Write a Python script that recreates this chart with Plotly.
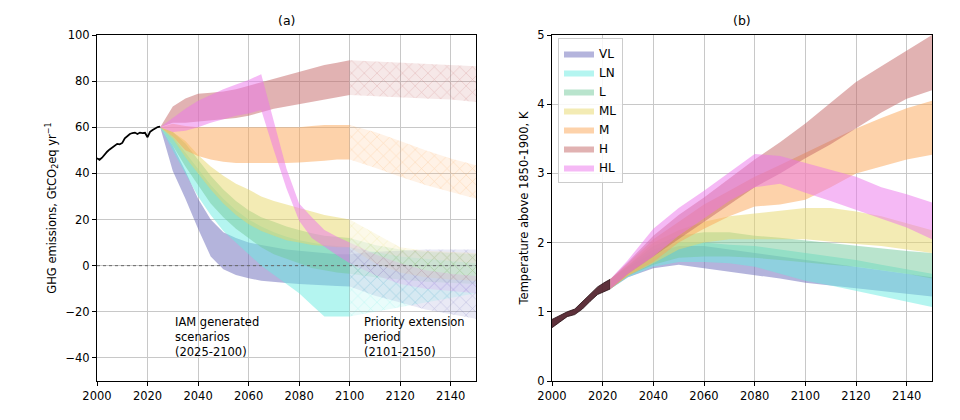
import plotly.graph_objects as go
from plotly.subplots import make_subplots

# ---- data -------------------------------------------------------------
SCENARIOS = ["VL", "LN", "L", "ML", "M", "H", "HL"]
BASE_RGB = {
    "VL": (105, 105, 185),
    "LN": (105, 235, 225),
    "L": (115, 201, 155),
    "ML": (231, 215, 105),
    "M": (251, 165, 85),
    "H": (195, 101, 101),
    "HL": (235, 115, 235),
}

# historical GHG emissions (GtCO2eq/yr)
hist_years = list(range(2000, 2026))
hist_emis = [46.6, 45.9, 46.8, 48.2, 49.4, 50.4, 51.2, 51.9, 52.8, 52.6,
             53.2, 55.2, 56.3, 57.1, 57.5, 57.7, 57.1, 57.7, 57.5, 57.6,
             55.7, 58.0, 58.8, 59.4, 60.1, 60.3]

# IAM period 2025-2100
emis_years = [2025, 2030, 2035, 2040, 2045, 2050, 2055, 2060,
              2065, 2070, 2075, 2080, 2085, 2090, 2095, 2100]
emis_hi = {
    "VL": [60, 52, 41, 29, 20, 14.5, 12, 10, 9, 8, 7, 6.5, 6, 5.5, 5, 5],
    "LN": [60, 56, 49, 42, 35, 29, 24, 20, 17, 14.5, 12.5, 11, 10, 9, 8.5, 8],
    "L": [60, 58, 53, 46, 39, 33, 28, 24, 21, 19, 17, 15.5, 14, 13, 12.5, 12],
    "ML": [60, 58, 54, 48, 43, 39, 35.5, 33, 30, 28, 26.5, 25, 23.5, 22, 21, 20],
    "M": [60, 61.5, 60.5, 60, 60, 60, 60, 60, 60, 60, 60, 60, 60.5, 61, 61, 61],
    "H": [60, 69, 72.5, 74.5, 75, 75.5, 76.5, 78, 79.5, 81, 82.5, 84, 85.5, 87, 88, 89],
    "HL": [60, 64, 68, 71.5, 74, 76.5, 78.5, 80.5, 83, 62, 42, 27, 21, 15.5, 12.5, 10],
}
emis_lo = {
    "VL": [60, 41, 29, 16, 4, -1.5, -4, -5.5, -6.5, -7, -7.5, -8, -8.3, -8.6, -8.8, -9],
    "LN": [60, 50, 40, 30, 22, 15, 10, 5, 0, -4, -8, -12, -17, -22, -22, -22],
    "L": [60, 52, 43, 35, 27, 21, 16, 12, 8, 5, 3, 1, -1, -2, -3, -3.5],
    "ML": [60, 55, 47, 40, 33, 27, 22, 18, 15, 13, 11, 10, 9, 8.5, 8, 8],
    "M": [60, 56, 50, 47.5, 46, 45, 44.5, 44.3, 44.3, 44.5, 44.5, 44.7, 45, 45.5, 46, 46],
    "H": [60, 62, 62, 62.5, 63, 63.5, 64, 65, 66.5, 68, 69, 70, 71, 72, 73, 74],
    "HL": [60, 58, 58.5, 60, 62, 63.5, 65, 66, 67.5, 50, 33.5, 19.5, 12, 8.2, 4.5, 1],
}

# priority extension period 2100-2150
ext_years = [2100, 2110, 2120, 2130, 2140, 2150]
ext_hi = {
    "VL": [5, 6, 6.5, 7, 7, 7],
    "LN": [8, 6, 4, 3, 2, 1],
    "L": [12, 9, 7, 6, 5.5, 5],
    "ML": [20, 14, 8, 6.5, 6, 5.5],
    "M": [61, 58, 54, 50, 46.5, 43.5],
    "H": [89, 88.5, 88, 87.5, 87, 86.5],
    "HL": [10, 5, 1, -2, -3.5, -4.5],
}
ext_lo = {
    "VL": [-9, -13, -16, -19, -21, -23],
    "LN": [-22, -20, -18, -16, -14, -12],
    "L": [-3.5, -5, -6, -7, -7.5, -8],
    "ML": [8, 1, -3, -5, -6, -6.5],
    "M": [46, 42.5, 38.5, 35, 32, 29],
    "H": [74, 73.5, 73, 72.5, 72, 71],
    "HL": [1, -4, -8, -10, -11, -12],
}

# historical warming band (K above 1850-1900)
thist_years = [2000, 2003, 2006, 2009, 2012, 2015, 2018, 2021, 2023]
thist_hi = [0.89, 0.95, 1.0, 1.04, 1.15, 1.26, 1.36, 1.43, 1.47]
thist_lo = [0.77, 0.85, 0.93, 0.96, 1.04, 1.15, 1.25, 1.30, 1.33]

temp_years = [2023, 2030, 2040, 2050, 2060, 2070, 2080, 2090,
              2100, 2110, 2120, 2130, 2140, 2150]
temp_hi = {
    "VL": [1.47, 1.65, 1.85, 1.95, 1.95, 1.9, 1.85, 1.8, 1.75, 1.7, 1.65, 1.6, 1.55, 1.5],
    "LN": [1.47, 1.65, 1.9, 2.0, 2.0, 1.97, 1.95, 1.9, 1.85, 1.8, 1.75, 1.68, 1.62, 1.55],
    "L": [1.47, 1.67, 1.95, 2.1, 2.15, 2.15, 2.1, 2.07, 2.03, 2.0, 1.95, 1.92, 1.88, 1.85],
    "ML": [1.47, 1.67, 2.0, 2.18, 2.3, 2.38, 2.42, 2.46, 2.5, 2.5, 2.45, 2.38, 2.28, 2.18],
    "M": [1.47, 1.7, 2.05, 2.3, 2.55, 2.75, 2.95, 3.12, 3.3, 3.48, 3.65, 3.8, 3.94, 4.05],
    "H": [1.47, 1.72, 2.1, 2.4, 2.65, 2.93, 3.2, 3.45, 3.72, 4.02, 4.32, 4.55, 4.78, 5.0],
    "HL": [1.47, 1.75, 2.2, 2.5, 2.75, 3.02, 3.28, 3.25, 3.15, 3.05, 2.95, 2.8, 2.7, 2.58],
}
temp_lo = {
    "VL": [1.33, 1.5, 1.63, 1.68, 1.64, 1.58, 1.53, 1.48, 1.42, 1.38, 1.34, 1.3, 1.26, 1.22],
    "LN": [1.33, 1.5, 1.65, 1.72, 1.72, 1.7, 1.65, 1.55, 1.45, 1.38, 1.3, 1.22, 1.15, 1.07],
    "L": [1.33, 1.52, 1.68, 1.78, 1.8, 1.8, 1.78, 1.75, 1.72, 1.68, 1.65, 1.6, 1.55, 1.48],
    "ML": [1.33, 1.52, 1.7, 1.9, 2.0, 2.05, 2.05, 2.05, 2.05, 2.02, 1.98, 1.95, 1.9, 1.85],
    "M": [1.33, 1.52, 1.72, 2.0, 2.2, 2.38, 2.52, 2.55, 2.62, 2.8, 3.0, 3.1, 3.2, 3.27],
    "H": [1.33, 1.55, 1.8, 2.05, 2.3, 2.55, 2.8, 3.0, 3.22, 3.42, 3.65, 3.88, 4.08, 4.2],
    "HL": [1.33, 1.55, 1.8, 2.1, 2.35, 2.6, 2.8, 2.85, 2.72, 2.6, 2.48, 2.35, 2.22, 2.05],
}


def rgba(name, a):
    r, g, b = BASE_RGB[name]
    return f"rgba({r},{g},{b},{a})"


def band(x, hi, lo):
    return list(x) + list(x)[::-1], list(hi) + list(lo)[::-1]


FONT = "DejaVu Sans"

fig = make_subplots(rows=1, cols=2)

# ---- panel (a): emissions ----------------------------------------------
for s in SCENARIOS:
    bx, by = band(emis_years, emis_hi[s], emis_lo[s])
    fig.add_trace(go.Scatter(
        x=bx, y=by, fill="toself", fillcolor=rgba(s, 0.5),
        line=dict(width=0), mode="lines", hoverinfo="skip",
        showlegend=False, legendgroup=s, name=s,
    ), row=1, col=1)
for s in SCENARIOS:
    bx, by = band(ext_years, ext_hi[s], ext_lo[s])
    fig.add_trace(go.Scatter(
        x=bx, y=by, fill="toself", fillcolor=rgba(s, 0.15),
        fillpattern=dict(shape="x", fgcolor=rgba(s, 0.7),
                         bgcolor=rgba(s, 0.15), size=9, solidity=0.12),
        line=dict(width=0), mode="lines", hoverinfo="skip",
        showlegend=False, legendgroup=s, name=s,
    ), row=1, col=1)

fig.add_trace(go.Scatter(
    x=hist_years, y=hist_emis, mode="lines",
    line=dict(color="black", width=1.8), showlegend=False,
), row=1, col=1)

fig.add_hline(y=0, line=dict(color="#666666", width=1, dash="dot"),
              row=1, col=1)

# ---- panel (b): temperature --------------------------------------------
bx, by = band(thist_years, thist_hi, thist_lo)
fig.add_trace(go.Scatter(
    x=bx, y=by, fill="toself", fillcolor="rgba(80,32,42,0.92)",
    line=dict(color="rgb(40,15,20)", width=0.8), mode="lines",
    hoverinfo="skip", showlegend=False,
), row=1, col=2)

for s in SCENARIOS:
    bx, by = band(temp_years, temp_hi[s], temp_lo[s])
    fig.add_trace(go.Scatter(
        x=bx, y=by, fill="toself", fillcolor=rgba(s, 0.5),
        line=dict(width=0), mode="lines", hoverinfo="skip",
        showlegend=True, legendgroup=s, name=s,
    ), row=1, col=2)

# ---- layout -------------------------------------------------------------
axis_style = dict(
    showline=True, mirror=True, linecolor="black", linewidth=1,
    ticks="outside", ticklen=4, tickcolor="black", automargin=False,
    showgrid=True, gridcolor="#c8c8c8", gridwidth=1, zeroline=False,
    tickfont=dict(family=FONT, size=11.5, color="black"),
)

fig.update_xaxes(axis_style)
fig.update_yaxes(axis_style)

fig.update_xaxes(domain=[97 / 960, 476 / 960], range=[2000, 2150],
                 tickvals=list(range(2000, 2150, 20)), row=1, col=1)
fig.update_xaxes(domain=[552 / 960, 932 / 960], range=[2000, 2150],
                 tickvals=list(range(2000, 2150, 20)), row=1, col=2)
fig.update_yaxes(domain=[39 / 420, 385 / 420], range=[-50, 100],
                 tickvals=list(range(-40, 101, 20)),
                 title=dict(text="GHG emissions, GtCO<sub>2</sub>eq yr<sup>−1</sup>",
                            font=dict(family=FONT, size=11.5), standoff=6),
                 row=1, col=1)
fig.update_yaxes(domain=[39 / 420, 385 / 420], range=[0, 5],
                 tickvals=[0, 1, 2, 3, 4, 5],
                 title=dict(text="Temperature above 1850-1900, K",
                            font=dict(family=FONT, size=11.5), standoff=6),
                 row=1, col=2)

annots = [
    dict(text="(a)", x=(97 + 476) / 2 / 960, y=0.952, xref="paper", yref="paper",
         xanchor="center", yanchor="middle",
         showarrow=False, font=dict(family=FONT, size=12.5)),
    dict(text="(b)", x=(552 + 932) / 2 / 960, y=0.952, xref="paper", yref="paper",
         xanchor="center", yanchor="middle",
         showarrow=False, font=dict(family=FONT, size=12.5)),
    dict(text="IAM generated<br>scenarios<br>(2025-2100)", x=2030, y=-31,
         xref="x", yref="y", xanchor="left", yanchor="middle", align="left",
         showarrow=False, font=dict(family=FONT, size=11.5)),
    dict(text="Priority extension<br>period<br>(2101-2150)", x=2105, y=-31,
         xref="x", yref="y", xanchor="left", yanchor="middle", align="left",
         showarrow=False, font=dict(family=FONT, size=11.5)),
]

fig.update_layout(
    width=960, height=420,
    margin=dict(l=0, r=0, t=0, b=0, autoexpand=False),
    paper_bgcolor="white", plot_bgcolor="white",
    font=dict(family=FONT, size=11.5, color="black"),
    annotations=annots,
    legend=dict(x=558 / 960, y=382 / 420, xanchor="left", yanchor="top",
                bgcolor="rgba(255,255,255,0.85)", bordercolor="#cccccc",
                borderwidth=1, font=dict(family=FONT, size=12),
                tracegroupgap=0, itemwidth=30),
)

# page body has a default 8px margin; drop it so the figure sits at 0,0
fig.write_html("out.html", config={"displayModeBar": False},
               post_script="document.body.style.margin='0px';")
